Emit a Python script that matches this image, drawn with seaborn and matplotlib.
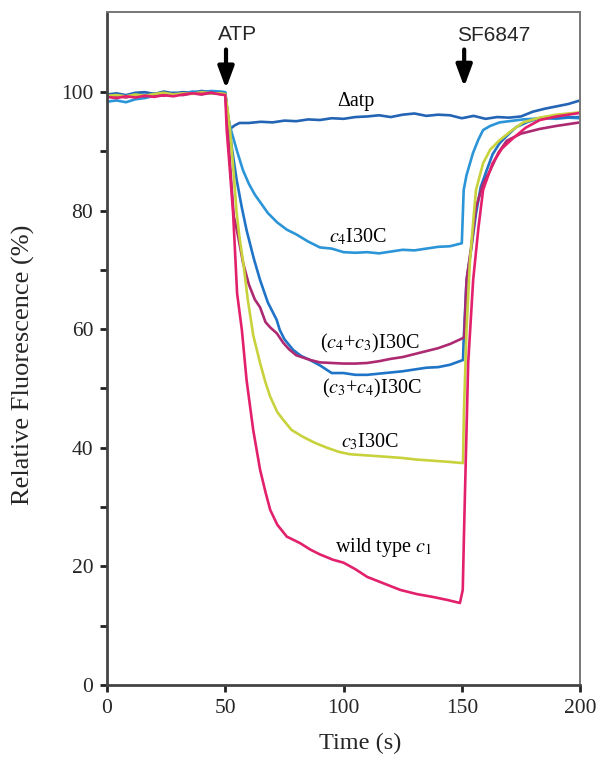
import numpy as np
import pandas as pd
import seaborn as sns
import matplotlib.pyplot as plt
from matplotlib.ticker import MultipleLocator, FixedLocator

# --- readings taken off the trace (time in s, relative fluorescence in %) ---
base_t = [0, 4, 8, 12, 16, 20, 24, 28, 32, 36, 40, 44, 48]

datp_t = base_t + [50, 51, 52, 54, 56, 60, 65, 70, 75, 80, 85, 90, 95, 100, 105, 110,
                   115, 120, 125, 130, 135, 140, 145, 150, 155, 160, 165, 170, 175,
                   180, 185, 190, 195, 200]
datp_v = [99.6, 99.8, 99.5, 99.9, 100.0, 99.7, 100.1, 99.8, 100.0, 99.9, 100.2, 100.0, 99.9,
          99.8, 96.5, 93.8, 94.4, 94.8, 94.8, 95.0, 94.9, 95.2, 95.1, 95.4, 95.3, 95.6,
          95.5, 95.8, 95.9, 96.1, 95.8, 96.2, 96.4, 96.0, 96.2, 96.1, 95.6, 96.0, 95.5,
          95.8, 95.7, 95.9, 96.7, 97.2, 97.6, 98.0, 98.6]

c4_t = base_t + [50, 51, 52.5, 55, 57.5, 60, 62.5, 65, 68, 72, 76, 80, 85, 90, 95, 100,
                 105, 110, 115, 120, 125, 130, 135, 140, 145, 150, 150.8, 152, 154.7,
                 157, 159, 162, 166, 170, 176, 180, 185, 190, 195, 200]
c4_v = [98.4, 98.6, 98.3, 98.8, 99.0, 99.4, 99.6, 99.8, 99.7, 100.1, 100.0, 100.2, 100.1,
        100.0, 96.0, 93.5, 90.0, 86.8, 84.5, 82.7, 81.3, 79.6, 78.0, 76.8, 76.0, 74.8,
        73.8, 73.6, 73.0, 72.9, 73.0, 72.8, 73.1, 73.4, 73.3, 73.6, 73.9, 74.0, 74.5,
        83.5, 86.0, 89.7, 92.0, 93.6, 94.3, 94.9, 95.1, 95.4, 95.5, 95.6, 95.5, 95.7, 95.6]

c34_t = base_t + [50, 51, 52.7, 54.8, 57, 59, 62, 64.7, 68, 71.7, 73, 75, 78.7, 82, 85.8,
                  90, 95, 100, 105, 110, 115, 120, 125, 130, 135, 140, 145, 150.5, 150.8,
                  152, 154, 156, 158, 160.5, 163, 166, 170, 173, 178, 183, 190, 200]
c34_v = [99.3, 99.6, 99.4, 99.7, 99.5, 99.8, 99.6, 99.9, 99.7, 99.8, 100.0, 99.8, 99.9,
         99.8, 96.0, 90.8, 85.2, 80.5, 76.7, 72.0, 68.3, 64.5, 61.6, 59.9, 58.3, 56.5,
         55.5, 54.8, 53.9, 52.6, 52.6, 52.3, 52.3, 52.5, 52.7, 52.9, 53.2, 53.5, 53.6,
         54.0, 54.8, 58.2, 68.3, 73.6, 79.5, 84.0, 86.8, 89.5, 91.4, 93.0, 94.1, 95.0,
         95.6, 95.7, 95.8]

c43_t = base_t + [50, 51, 52.5, 53.6, 54.5, 55.5, 57.5, 60, 62.5, 64.7, 67, 69, 71.8, 74.5,
                  77, 80, 86, 90, 95, 100, 105, 110, 115, 120, 125, 130, 135, 140, 145,
                  150.5, 151, 152, 154, 156, 159, 162, 165.5, 169, 175, 183, 190, 200]
c43_v = [99.2, 99.4, 99.1, 99.5, 99.3, 99.6, 99.4, 99.7, 99.5, 99.8, 99.6, 99.9, 99.7,
         99.6, 94.0, 85.0, 79.0, 77.5, 75.5, 71.2, 67.5, 65.0, 63.7, 61.2, 60.3, 59.3,
         57.7, 56.6, 55.6, 54.8, 54.4, 54.3, 54.2, 54.2, 54.3, 54.6, 55.0, 55.3, 55.8,
         56.3, 56.8, 57.5, 58.5, 58.7, 68.3, 73.9, 80.6, 84.5, 86.8, 89.8, 91.8, 93.0,
         93.8, 94.3, 94.9]

c3_t = base_t + [50, 51, 52, 53.5, 54.8, 56, 57.6, 59.5, 61.8, 64.7, 67, 69, 72, 74.5, 78,
                 83, 88, 93, 98, 102.7, 110, 117, 124, 131, 138, 145, 150.5, 150.9, 152,
                 153.4, 155, 156, 159, 162, 166, 171, 176, 183, 190, 200]
c3_v = [99.4, 99.5, 99.3, 99.6, 99.4, 99.7, 99.9, 99.6, 99.8, 99.7, 100.0, 99.8, 99.8,
        99.7, 97.0, 93.6, 86.5, 79.6, 75.5, 71.2, 65.0, 59.0, 54.3, 51.0, 48.6, 46.0,
        44.7, 43.0, 41.8, 40.8, 40.0, 39.3, 38.9, 38.7, 38.5, 38.3, 38.0, 37.8, 37.6,
        37.4, 46.0, 59.9, 71.2, 79.0, 83.5, 88.0, 90.3, 91.9, 93.5, 94.9, 95.7, 96.2, 96.6]

wt_t = base_t + [50, 50.6, 52, 53.3, 55, 57, 59, 61.8, 64.7, 67, 69, 72, 76, 81.6, 86, 90,
                 95.5, 100, 105, 110, 117, 124, 131, 138, 144, 149.2, 150.4, 150.9, 151.3,
                 152.7, 154.8, 157, 159, 163, 167, 171.6, 177, 183, 190, 200]
wt_v = [99.2, 99.0, 99.3, 99.1, 99.4, 99.2, 99.5, 99.3, 99.6, 99.8, 99.7, 99.9, 99.6,
        99.5, 93.6, 86.5, 79.6, 66.0, 59.9, 51.4, 43.0, 36.3, 32.5, 29.5, 27.0, 25.0,
        23.9, 22.8, 22.0, 21.1, 20.6, 19.5, 18.2, 17.1, 16.0, 15.3, 14.8, 14.3, 13.8,
        16.0, 25.0, 31.7, 54.3, 68.3, 77.0, 83.5, 88.0, 90.5, 92.2, 94.0, 95.3, 95.9, 96.5]

trace_names = ["datp", "c4", "c34", "c43", "c3", "wt"]
trace_colors = ["#2464b4", "#2b95d8", "#1f74c8", "#ad2a72", "#c8d23c", "#e2206c"]

# --- build a long table for seaborn ---
frames = []
for name, t, v in zip(trace_names,
                      [datp_t, c4_t, c34_t, c43_t, c3_t, wt_t],
                      [datp_v, c4_v, c34_v, c43_v, c3_v, wt_v]):
    frames.append(pd.DataFrame({"time": t, "fluor": v, "trace": name}))
df = pd.concat(frames, ignore_index=True)

sns.set_theme(style="ticks")
plt.rcParams["font.family"] = ["Liberation Serif", "DejaVu Serif"]
plt.rcParams["mathtext.fontset"] = "stix"

fig = plt.figure(figsize=(5.98, 7.6), dpi=100)
ax = fig.add_axes([0.179, 0.099, 0.791, 0.885])

sns.lineplot(data=df, x="time", y="fluor", hue="trace",
             palette=dict(zip(trace_names, trace_colors)),
             estimator=None, sort=False, linewidth=1.9, legend=False, ax=ax)

ax.set_xlim(0, 200)
ax.set_ylim(0, 113.5)
ax.xaxis.set_major_locator(MultipleLocator(50))
ax.yaxis.set_major_locator(FixedLocator([0, 20, 40, 60, 80, 100]))
ax.yaxis.set_minor_locator(FixedLocator([10, 30, 50, 70, 90]))
ax.tick_params(axis="both", which="both", direction="out", length=5, width=2,
               color="#222222", labelsize=15.5, pad=5)
for side in ["left", "bottom"]:
    ax.spines[side].set_linewidth(2)
    ax.spines[side].set_color("#444444")
for side in ["top", "right"]:
    ax.spines[side].set_visible(True)
    ax.spines[side].set_linewidth(1.4)
    ax.spines[side].set_color("#777777")

ax.set_xlabel("Time (s)", fontsize=17.5)
ax.set_ylabel("Relative Fluorescence (%)", fontsize=19)
ax.xaxis.set_label_coords(0.535, -0.072)
ax.yaxis.set_label_coords(-0.152, 0.475)

# --- curve labels ---
lab = dict(fontsize=14.5, ha="center", va="baseline", color="black")
ax.text(105, 97.6, "Δatp", **lab)
ax.text(106, 74.6, r"$c_4$I30C", **lab)
ax.text(111, 56.8, r"($c_4$+$c_3$)I30C", **lab)
ax.text(112, 49.2, r"($c_3$+$c_4$)I30C", **lab)
ax.text(111, 40.1, r"$c_3$I30C", **lab)
ax.text(117, 22.4, r"wild type $c_1$", **lab)

# --- additions (ATP, uncoupler) ---
arrow = dict(arrowstyle="-|>,head_length=0.65,head_width=0.24", color="black", lw=3,
             mutation_scale=20, shrinkA=0, shrinkB=0)
ax.annotate("", xy=(50.3, 100.6), xytext=(50.3, 107.2), arrowprops=arrow)
ax.annotate("", xy=(151, 100.9), xytext=(151, 107.2), arrowprops=arrow)
ax.text(55.2, 108.8, "ATP", fontsize=15, ha="center", va="baseline",
        family=["Liberation Sans", "DejaVu Sans"])
ax.text(163.4, 108.6, "SF6847", fontsize=15, ha="center", va="baseline",
        family=["Liberation Sans", "DejaVu Sans"])

fig.savefig("out.png", dpi=100)
